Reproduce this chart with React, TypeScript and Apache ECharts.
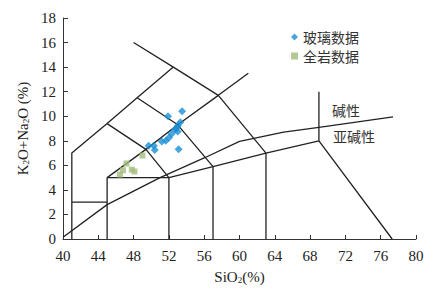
import React, { useEffect, useRef } from "react";
import * as echarts from "echarts";

const xTicks = { min: 40, max: 80, interval: 4 };
const yTicks = { min: 0, max: 18, interval: 2 };

const glassData: number[][] = [
  [53.5, 10.4], [51.9, 10.0], [53.3, 9.5], [53.0, 9.2], [52.8, 9.0],
  [53.0, 8.75], [52.7, 8.9], [52.3, 8.55], [52.0, 8.25], [51.65, 8.0],
  [51.2, 7.95], [50.3, 7.6], [49.7, 7.6], [50.4, 7.25], [53.1, 7.3],
];
const wholeRockData: number[][] = [
  [49.0, 6.8], [47.2, 6.15], [46.8, 5.6], [46.45, 5.25], [47.8, 5.65], [48.1, 5.5],
];

const tasLines: number[][][] = [
  [[41, 0], [41, 7], [45, 9.4], [48.4, 11.5], [52.5, 14]],
  [[48, 16], [52.5, 14], [57.6, 11.7], [63, 7], [69, 8], [77.3, 0]],
  [[45, 0], [45, 5], [52, 5], [52, 0]],
  [[41, 3], [45, 3]],
  [[45, 5], [49.4, 7.3], [53, 9.3], [57.6, 11.7], [61, 13.5]],
  [[45, 9.4], [49.4, 7.3], [52, 5], [57, 5.9], [63, 7]],
  [[48.4, 11.5], [53, 9.3], [57, 5.9], [57, 0]],
  [[63, 7], [63, 0]],
  [[69, 8], [69, 12]],
];
const alkalineLine: number[][] = [
  [40, 0.15], [45, 2.8], [51, 5.0], [56, 6.6], [60, 7.95], [65, 8.7], [69, 9.1], [77.4, 9.95],
];

const seriesNames = ["玻璃数据", "全岩数据"];
const fieldLabels = ["碱性", "亚碱性"];

export default function App() {
  const ref = useRef<HTMLDivElement>(null);
  useEffect(() => {
    if (!ref.current) return;
    const chart = echarts.init(ref.current, undefined, { renderer: "svg" });
    const lineColor = "#222";
    const serif = "Liberation Serif";
    const lineSeries = [...tasLines, alkalineLine].map((pts) => ({
      type: "line" as const,
      data: pts,
      showSymbol: false,
      symbol: "none",
      silent: true,
      lineStyle: { color: lineColor, width: 1.3 },
      z: 2,
    }));
    chart.setOption({
      animation: false,
      grid: { left: 63, right: 20, top: 18, bottom: 50 },
      xAxis: {
        type: "value",
        ...xTicks,
        name: "SiO{s|2}(%)",
        nameLocation: "middle",
        nameGap: 30,
        nameTextStyle: {
          fontFamily: serif,
          fontSize: 15,
          color: "#222",
          rich: { s: { fontFamily: serif, fontSize: 9, color: "#222", padding: [6, 0, 0, 0] } },
        },
        axisLine: { show: true, lineStyle: { color: "#333", width: 1 } },
        axisTick: { show: true, inside: true, length: 4, lineStyle: { color: "#333" } },
        axisLabel: { fontFamily: serif, fontSize: 15, color: "#222", margin: 9 },
        splitLine: { show: false },
      },
      yAxis: {
        type: "value",
        ...yTicks,
        name: "K{s|2}O+Na{s|2}O (%)",
        nameLocation: "middle",
        nameGap: 31,
        nameRotate: 90,
        nameTextStyle: {
          fontFamily: serif,
          fontSize: 15,
          color: "#222",
          rich: { s: { fontFamily: serif, fontSize: 9, color: "#222", padding: [6, 0, 0, 0] } },
        },
        axisLine: { show: true, lineStyle: { color: "#333", width: 1 } },
        axisTick: { show: true, inside: true, length: 5, lineStyle: { color: "#333" } },
        axisLabel: { fontFamily: serif, fontSize: 15, color: "#222", margin: 7 },
        splitLine: { show: false },
      },
      legend: {
        orient: "vertical",
        left: 289,
        top: 28,
        padding: 2,
        itemWidth: 7,
        itemHeight: 7,
        itemGap: 5,
        textStyle: { fontFamily: "Noto Sans CJK SC", fontSize: 14, color: "#333", lineHeight: 14 },
        data: [
          { name: seriesNames[0], icon: "diamond" },
          { name: seriesNames[1], icon: "rect" },
        ],
      },
      graphic: [
        {
          type: "text",
          left: 332,
          top: 103,
          style: { text: fieldLabels[0], fontFamily: "Noto Sans CJK SC", fontSize: 14, fill: "#333" },
        },
        {
          type: "text",
          left: 333,
          top: 129,
          style: { text: fieldLabels[1], fontFamily: "Noto Sans CJK SC", fontSize: 14, fill: "#333" },
        },
      ],
      series: [
        ...lineSeries,
        {
          name: seriesNames[0],
          type: "scatter",
          data: glassData,
          symbol: "diamond",
          symbolSize: 8,
          itemStyle: { color: "#1a8fd4" },
          z: 5,
        },
        {
          name: seriesNames[1],
          type: "scatter",
          data: wholeRockData,
          symbol: "rect",
          symbolSize: 6,
          itemStyle: { color: "#a2bd7c" },
          z: 5,
        },
      ],
    });
    return () => chart.dispose();
  }, []);
  return <div ref={ref} style={{ width: 436, height: 289, position: "absolute", left: 0, top: 0 }} />;
}
